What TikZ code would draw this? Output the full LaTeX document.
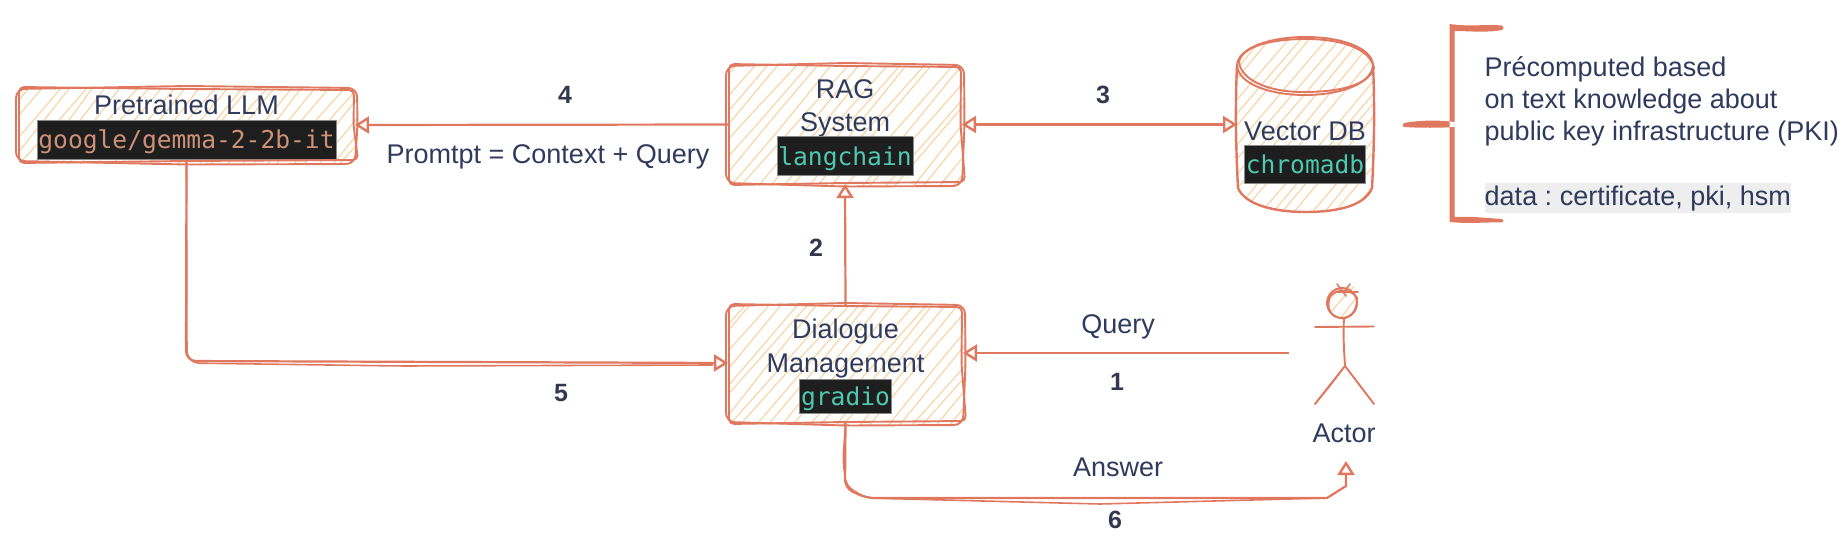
\documentclass[tikz,border=0pt]{standalone}
\usepackage{fontspec}
\setmainfont{Liberation Sans}
\newfontfamily\monof{DejaVu Sans Mono}
\usetikzlibrary{arrows.meta,backgrounds}
\definecolor{skred}{HTML}{E0785F}
\definecolor{skhatch}{HTML}{F6D8AC}
\definecolor{ink}{HTML}{2F3A5C}
\definecolor{numink}{HTML}{33384F}
\definecolor{codebg}{HTML}{1E1E1E}
\definecolor{codeedge}{HTML}{8A8A8A}
\definecolor{codegreen}{HTML}{4EC9B0}
\definecolor{codeorange}{HTML}{CE9178}
\definecolor{hlgray}{HTML}{EEEEEE}
\setlength{\fboxsep}{1pt}
\setlength{\fboxrule}{0.8pt}
\lineskiplimit=-100pt
\frenchspacing
\newcommand\codetxt[4]{\fcolorbox{codeedge}{codebg}{\rule[-#3pt]{0pt}{\dimexpr#2pt+#3pt\relax}\textcolor{#1}{\monof\fontsize{24.6}{30}\selectfont #4}}}
% hatch lines: x1 x2 y1 y2
\newcommand\hatchlines[4]{%
  \pgfmathsetmacro\hs{#1-(#4-#3)*0.85}%
  \pgfmathsetmacro\hn{\hs+13}%
  \foreach \k in {\hs,\hn,...,#2}{%
    \pgfmathsetmacro\ra{\k+4*rand}\pgfmathsetmacro\rb{\k+(#4-#3)*0.85+5*rand}%
    \pgfmathsetmacro\rc{0.5*(\ra+\rb)+1.5*rand}\pgfmathsetmacro\rd{0.5*(#3+#4)+1.5*rand}%
    \draw[hatchline] (\ra,#4) .. controls (\rc,\rd) .. (\rb,#3);
  }}
% sketched outline of a box node
\newcommand\skoutline[1]{%
  \draw[skline,rounded corners=9pt] ([shift={(-2,1)}]#1.north west) -- ([shift={(0,-2)}]#1.north) -- ([shift={(2,0)}]#1.north east) -- ([shift={(2.5,0)}]#1.east) -- ([shift={(0,2)}]#1.south east) -- ([shift={(0,2.5)}]#1.south) -- ([shift={(-2,-1)}]#1.south west) -- ([shift={(-2,0)}]#1.west) -- cycle;
  \draw[skline,rounded corners=5pt] ([shift={(1,-1)}]#1.north west) -- ([shift={(0,1)}]#1.north) -- ([shift={(-1,2)}]#1.north east) -- ([shift={(-1.5,0)}]#1.east) -- ([shift={(3,-2)}]#1.south east) -- ([shift={(0,-1)}]#1.south) -- ([shift={(1,1)}]#1.south west) -- ([shift={(1,0)}]#1.west) -- cycle;}
\tikzset{
  skline/.style={draw=skred,line width=1.9pt,line cap=round,line join=round},
  hatchline/.style={draw=skhatch,line width=1.3pt},
  sktip/.tip={Triangle[open,length=14pt,width=17pt,line width=2.4pt]},
  conn/.style={draw=skred,line width=2.2pt,line join=round,-sktip},
  conntwin/.style={draw=skred,line width=1.6pt,line join=round},
  boxnode/.style={inner sep=0pt,outer sep=0pt,align=center,text=ink,font=\fontsize{27}{33.5}\selectfont},
  lab/.style={text=ink,inner sep=0pt,anchor=base,font=\fontsize{27}{32}\selectfont},
  num/.style={text=numink,inner sep=0pt,font=\fontsize{25}{30}\selectfont\bfseries},
}
\pgfmathsetseed{11}
\begin{document}
\begin{tikzpicture}[x=1pt,y=-1pt]
\useasboundingbox (0,0) rectangle (1843,538);
% boxes
\node[boxnode,minimum width=337pt,minimum height=74pt] (llm) at (186.5,125) {\rule{0pt}{25pt}Pretrained LLM\\\codetxt{codeorange}{27}{10}{google/gemma-2-2b-it}};
\node[boxnode,minimum width=234pt,minimum height=119pt] (rag) at (845,124.5) {\rule{0pt}{25pt}RAG\\System\\\codetxt{codegreen}{27}{9}{langchain}};
\node[boxnode,minimum width=235pt,minimum height=118pt] (dlg) at (845.5,364) {\rule{0pt}{24pt}Dialogue\\Management\\\codetxt{codegreen}{25}{6}{gradio}};
\node[boxnode,minimum width=136pt,minimum height=175pt] (db) at (1305,124.5) {\rule{0pt}{75pt}Vector DB\\\codetxt{codegreen}{27}{8}{chromadb}};
\begin{scope}[on background layer]
  \begin{scope}
    \clip[rounded corners=6pt] (llm.north west) rectangle ([shift={(2,2)}]llm.south east);
    \hatchlines{18}{357}{88}{164}
  \end{scope}
  \begin{scope}
    \clip[rounded corners=6pt] (rag.north west) rectangle ([shift={(2,2)}]rag.south east);
    \hatchlines{728}{964}{65}{186}
  \end{scope}
  \begin{scope}
    \clip[rounded corners=6pt] (dlg.north west) rectangle ([shift={(2,2)}]dlg.south east);
    \hatchlines{728}{965}{305}{425}
  \end{scope}
  \begin{scope}
    \clip (1237,65) .. controls (1240,25) and (1370,25) .. (1373,65) -- (1373,185) .. controls (1368,205) and (1340,212) .. (1305,212) .. controls (1270,212) and (1242,205) .. (1237,185) -- cycle;
    \hatchlines{1237}{1373}{37}{212}
  \end{scope}
  \begin{scope}
    \clip (1342,303) circle (15) (1343,290) rectangle (1354,286);
    \hatchlines{1327}{1357}{284}{318}
  \end{scope}
\end{scope}
\skoutline{llm}
\skoutline{rag}
\skoutline{dlg}
% cylinder
\draw[skline] (1237,65) .. controls (1238,48) and (1270,37) .. (1305,37) .. controls (1342,37) and (1372,48) .. (1373,65) .. controls (1372,84) and (1340,95) .. (1305,95) .. controls (1270,95) and (1238,84) .. (1237,65) -- cycle;
\draw[skline] (1239,62) .. controls (1242,46) and (1272,39) .. (1306,39) .. controls (1340,39) and (1370,48) .. (1374,68) .. controls (1368,86) and (1338,92) .. (1303,92) .. controls (1268,92) and (1241,80) .. (1239,62) -- cycle;
\draw[skline,line width=2.4pt] (1237,65) .. controls (1235,110) and (1236,150) .. (1238,188) .. controls (1245,205) and (1275,212) .. (1305,212) .. controls (1340,212) and (1365,205) .. (1372,188) .. controls (1374,150) and (1375,110) .. (1373,65);
% actor
\coordinate (actorQ) at (1289,353);
\coordinate (actorA) at (1346,461);
\coordinate (headc) at (1342,303);
\draw[skline] (headc) circle (15);
\draw[skline] (1328,300) .. controls (1332,288) and (1352,288) .. (1357,298) .. controls (1358,312) and (1348,320) .. (1340,318) .. controls (1330,316) and (1326,308) .. (1330,296);
\draw[skline,line width=1.6pt] (1337,284) -- (1346,296) (1358,292) -- (1336,292) (1350,284) -- (1344,292);
\draw[skline] (1315,327) -- (1374,326.5);
\draw[skline] (1344,318) .. controls (1343,335) and (1344,350) .. (1345,366);
\draw[skline] (1345,366) -- (1315,404);
\draw[skline,line width=1.4pt] (1343,368) .. controls (1335,380) and (1325,392) .. (1315,404);
\draw[skline] (1345,366) -- (1374,404);
\node[lab] (actor) at (1344,442) {Actor};
% connectors
\draw[conn] (rag.west) -- (llm.east);
\draw[conn,line width=2.8pt,sktip-sktip] (rag.east) -- (db.west);
\draw[conn] (dlg.north) -- (rag.south);
\draw[conn] (actorQ) -- ([yshift=11pt]dlg.east);
\draw[conn,rounded corners=10pt] (llm.south) -- (186,361) -- ([yshift=1pt]dlg.west);
\draw[conntwin,rounded corners=12pt] (llm.south) -- (187,363) -- (400,366) -- ([shift={(-15,1)}]dlg.west);
\draw[conn,rounded corners=8pt] (dlg.south) -- (845,488) -- (866,498) [sharp corners] -- (1327,498) -- (1346,486) -- (actorA);
\draw[conntwin,rounded corners=8pt] (dlg.south) -- (843,460) -- (846,486) -- (866,498) [sharp corners] -- (1100,504) -- (1327,498);
% bracket
\fill[skred] (1449.5,24) .. controls (1470,27) and (1485,24) .. (1502,25.5) .. controls (1504,27) and (1504,29) .. (1502,30) .. controls (1485,33) and (1470,31) .. (1454.5,31) -- (1454.5,122) .. controls (1440,120) and (1420,120) .. (1404,123) .. controls (1402,125) and (1402,126) .. (1404,127) .. controls (1420,128) and (1440,128) .. (1454.5,127) -- (1454.5,217) .. controls (1470,216) and (1485,218) .. (1502,219) .. controls (1504,220) and (1504,222) .. (1502,222.5) .. controls (1485,222) and (1470,224) .. (1449.5,222) -- cycle;
% text block
\node[inner sep=0pt,anchor=north west,align=left,text=ink,font=\fontsize{27}{32.3}\selectfont] (note) at (1484.5,56) {Précomputed based\\on text knowledge about\\public key infrastructure (PKI)\\[32.8pt]{\setlength{\fboxsep}{0pt}\colorbox{hlgray}{\rule[-7pt]{0pt}{30pt}data : certificate, pki, hsm}}};
% labels
\node[num] (n4) at (565,95) {4};
\node[lab] (prompt) at (548,163) {Promtpt = Context + Query};
\node[num] (n3) at (1103,95) {3};
\node[num] (n2) at (816,248) {2};
\node[num] (n5) at (561,393) {5};
\node[lab] (query) at (1118,333) {Query};
\node[num] (n1) at (1117,382) {1};
\node[lab] (answer) at (1118,476) {Answer};
\node[num] (n6) at (1115,520) {6};
\end{tikzpicture}
\end{document}
